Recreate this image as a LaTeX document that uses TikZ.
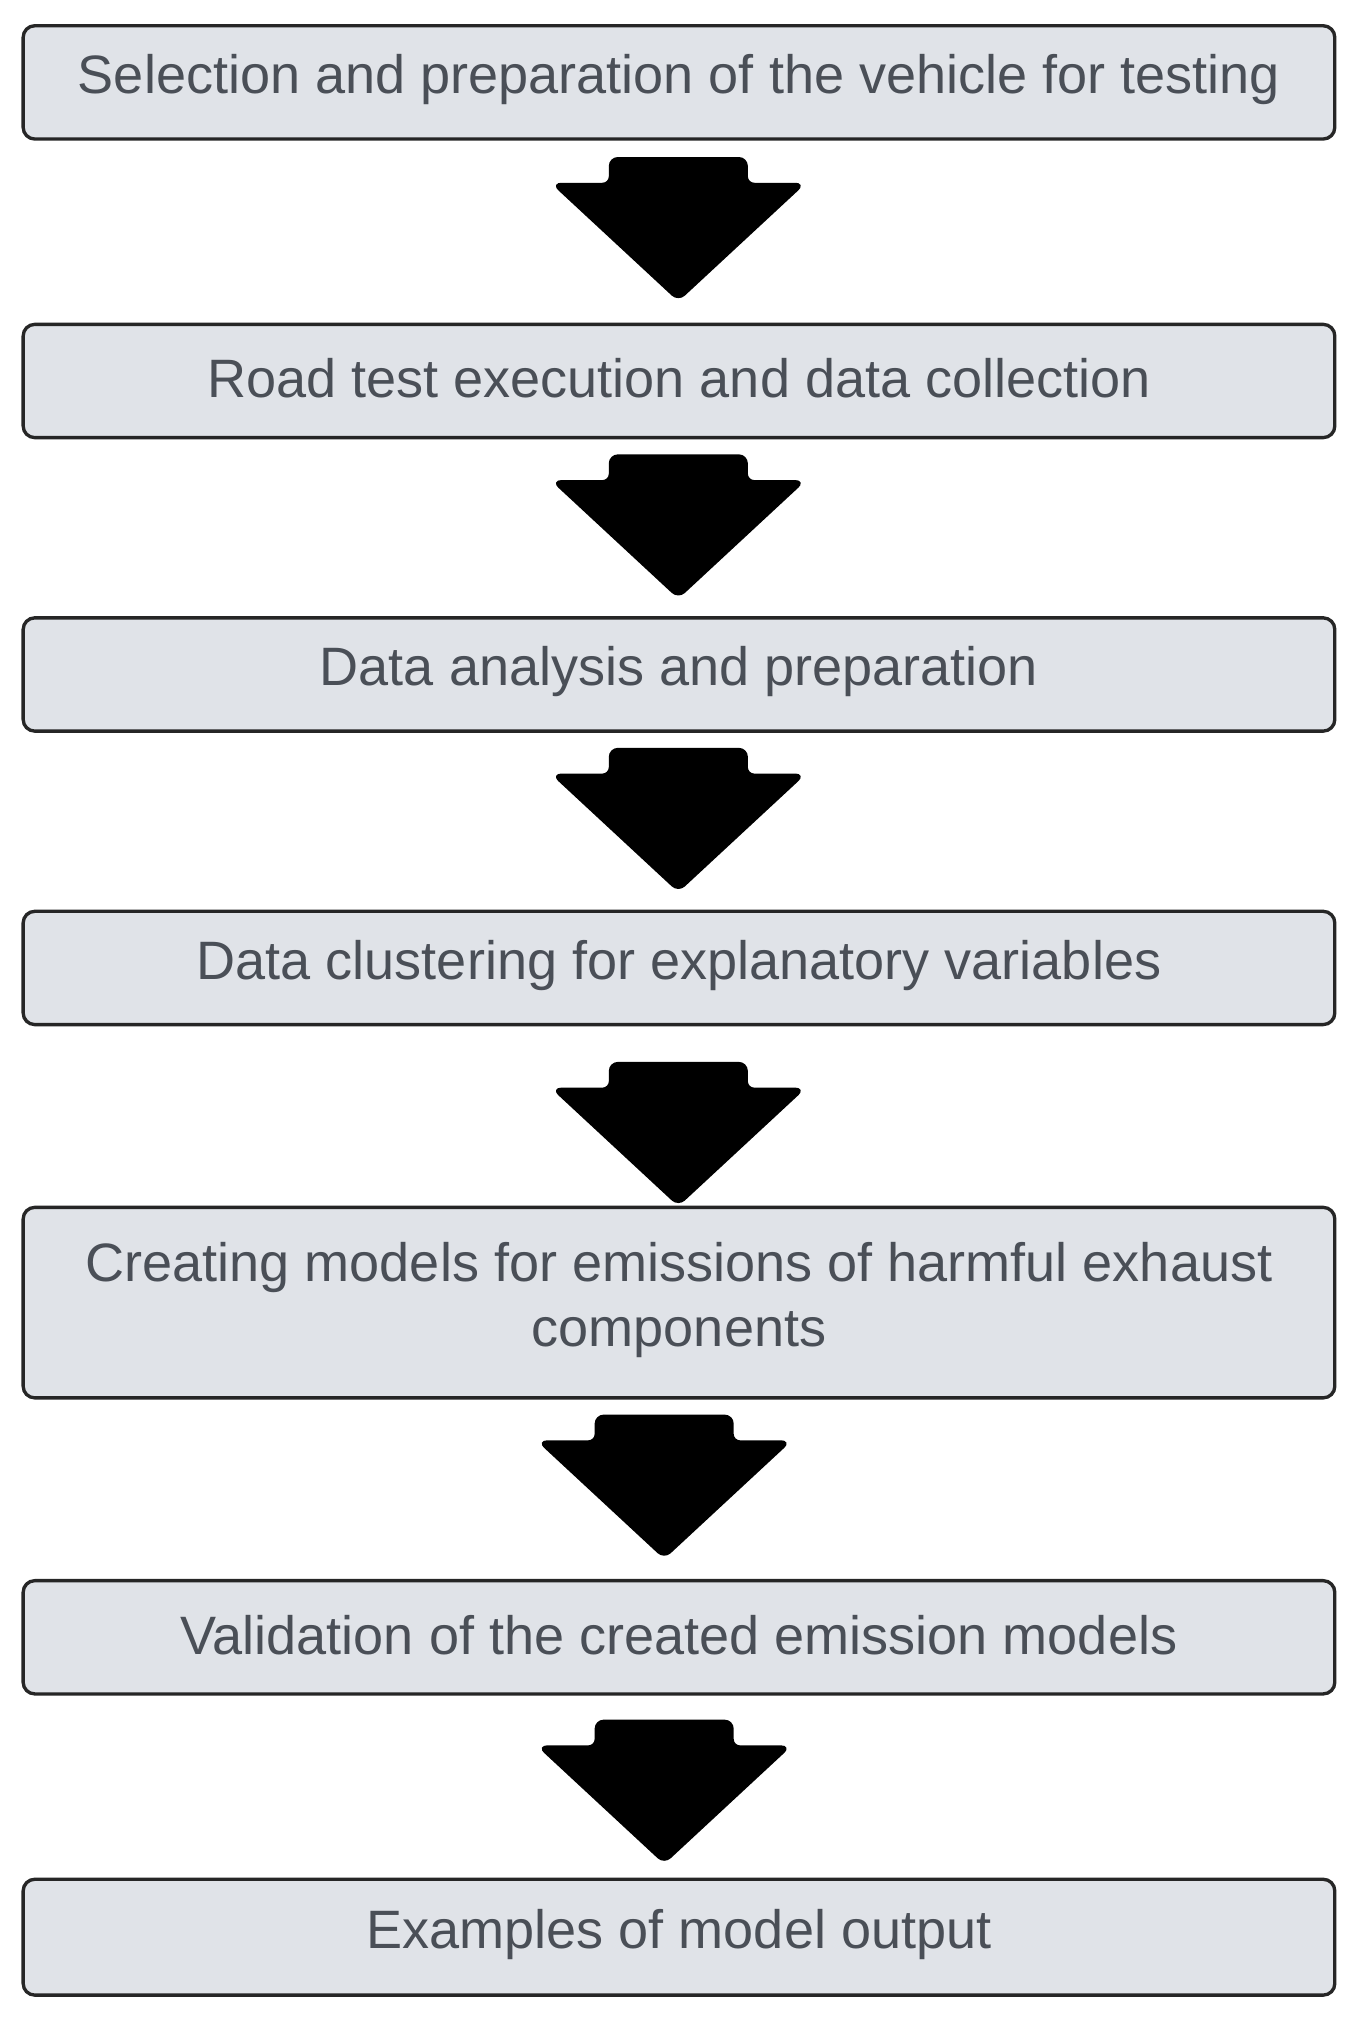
\documentclass[tikz,border=0pt]{standalone}
\usepackage{fontspec}
\setmainfont{Liberation Sans}
\begin{document}
\begin{tikzpicture}[x=1pt,y=-1pt,
  box/.style={draw=black!85,line width=2.6pt,fill=boxfill,rounded corners=9pt},
  lab/.style={text=txt,font=\fontsize{42}{50}\selectfont,align=center},
  arr/.style={fill=black,draw=black,line width=2pt,rounded corners=6pt}]
\definecolor{boxfill}{HTML}{E0E3E8}
\definecolor{txt}{HTML}{4A4F57}
\useasboundingbox (0,0) rectangle (1055,1574);
\newcommand{\bx}[4]{\draw[box] (18,#2) rectangle (1037,#3); \node[lab] (#1) at (527.5,{(#2+#3)/2-2}) {#4};}
\newcommand{\ar}[3]{\path[arr] (#1-53,#2) -- (#1+53,#2) -- (#1+53,#2+20) -- (#1+97,#2+20) -- (#1,#2+110) -- (#1-97,#2+20) -- (#1-53,#2+20) -- cycle; \coordinate (#3) at (#1,#2);}
\bx{b1}{20}{108}{Selection and preparation of the vehicle for testing}
\bx{b2}{252}{340}{Road test execution and data collection}
\bx{b3}{480}{568}{Data analysis and preparation}
\bx{b4}{708}{796}{Data clustering for explanatory variables}
\bx{b5}{938}{1086}{Creating models for emissions of harmful exhaust\\components}
\bx{b6}{1228}{1316}{Validation of the created emission models}
\bx{b7}{1460}{1550}{Examples of model output}
\ar{527}{123}{a1}
\ar{527}{354}{a2}
\ar{527}{582}{a3}
\ar{527}{826}{a4}
\ar{516}{1100}{a5}
\ar{516}{1337}{a6}
\end{tikzpicture}
\end{document}
